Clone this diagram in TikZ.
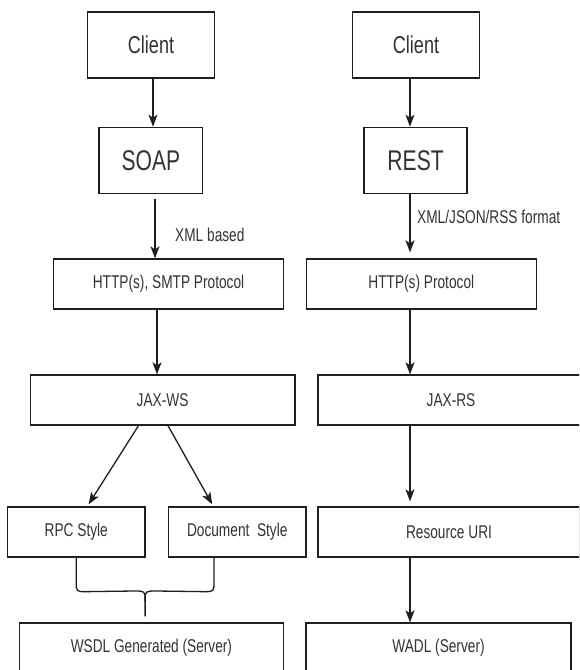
\documentclass[tikz,border=0pt]{standalone}
\usepackage{fontspec}
\setmainfont{Liberation Sans}[FakeStretch=0.74]
\usetikzlibrary{arrows.meta,calc}
\definecolor{txt}{HTML}{333333}
\definecolor{ln}{HTML}{1E1E1E}
\begin{document}
\begin{tikzpicture}[x=1pt,y=-1pt,
  box/.style={draw=ln,line width=1.3pt,text=txt,inner sep=0pt,align=center},
  big/.style={font=\fontsize{24.4}{28}\selectfont},
  huge/.style={font=\fontsize{28.5}{32}\selectfont},
  small/.style={font=\fontsize{18.5}{22}\selectfont},
  arr/.style={draw=ln,line width=1.3pt,-{Stealth[length=12pt,width=9pt,inset=3pt]}},
  lbl/.style={text=txt,inner sep=0pt,anchor=west,font=\fontsize{18.5}{22}\selectfont},
  brace/.style={draw=ln,line width=1.3pt}]
\clip (0,0) rectangle (579,670);
\fill[white] (0,0) rectangle (579,670);

% nodes
\node[box,big,minimum width=127pt,minimum height=66pt] (cl1) at (151,45) {Client};
\node[box,big,minimum width=126.6pt,minimum height=66pt] (cl2) at (416,45) {Client};
\node[box,huge,minimum width=103.7pt,minimum height=66pt] (soap) at (150.9,160.3) {SOAP};
\node[box,huge,minimum width=103pt,minimum height=66pt] (rest) at (415.6,160.3) {REST};
\node[box,small,minimum width=230pt,minimum height=50pt] (http1) at (168.5,284) {HTTP(s), SMTP Protocol};
\node[box,small,minimum width=230pt,minimum height=50pt] (http2) at (421.3,284) {HTTP(s) Protocol};
\node[box,small,minimum width=264.7pt,minimum height=50pt] (jaxws) at (162.6,400) {JAX-WS};
\node[box,small,minimum width=266pt,minimum height=50pt] (jaxrs) at (451,400) {JAX-RS};
\node[box,small,minimum width=137.7pt,minimum height=50pt] (rpc) at (76.25,532) {RPC Style};
\node[box,small,minimum width=137.7pt,minimum height=50pt] (doc) at (237.25,532) {Document\ \ Style};
\node[box,small,minimum width=262pt,minimum height=50pt] (res) at (449,532) {Resource URI};
\node[box,small,minimum width=264.4pt,minimum height=50pt] (wsdl) at (151.4,648) {WSDL Generated (Server)};
\node[box,small,minimum width=265pt,minimum height=50pt] (wadl) at (438.5,648) {WADL (Server)};

% labels
\node[lbl] (xmlb) at (175,235) {XML based};
\node[lbl] (xmlj) at (417,217) {XML/JSON/RSS format};

% column coordinates
\coordinate (colR) at (410,0);
\coordinate (colA) at (153,0);
\coordinate (colB) at (155,0);
\coordinate (colC) at (157,0);

% left connectors
\draw[arr] (cl1.south -| colA) -- (soap.north -| colA);
\draw[arr] ([yshift=-5pt]soap.south -| colB) -- (http1.north -| colB);
\draw[arr] (http1.south -| colC) -- (jaxws.north -| colC);
\draw[arr] ([xshift=-24.1pt]jaxws.south) -- ([xshift=12.35pt,yshift=2pt]rpc.north);
\draw[arr] ([xshift=5.4pt]jaxws.south) -- ([xshift=-25pt,yshift=2pt]doc.north);

% right connectors
\draw[arr] (cl2.south -| colR) -- (rest.north -| colR);
\draw[arr] (rest.south -| colR) -- ([yshift=6pt]http2.north -| colR);
\draw[arr] (http2.south -| colR) -- (jaxrs.north -| colR);
\draw[arr] (jaxrs.south -| colR) -- ([yshift=5pt]res.north -| colR);
\draw[arr] (res.south -| colR) -- (wadl.north -| colR);

% brace
\coordinate (bL) at (rpc.south);
\coordinate (bR) at ([xshift=-23.25pt]doc.south);
\coordinate (bC) at (145.1,601);
\coordinate (bEnd) at ([yshift=6pt]wsdl.north -| bC);
\draw[brace] (bL) -- ++(0,24) .. controls +(0,10) .. ++(10,10) -- (134.1,591) .. controls (145.1,591) .. (bC) -- (bEnd);
\draw[brace] (bR) -- ++(0,24) .. controls +(0,10) .. ++(-10,10) -- (156.1,591) .. controls (145.1,591) .. (bC);
\end{tikzpicture}
\end{document}
